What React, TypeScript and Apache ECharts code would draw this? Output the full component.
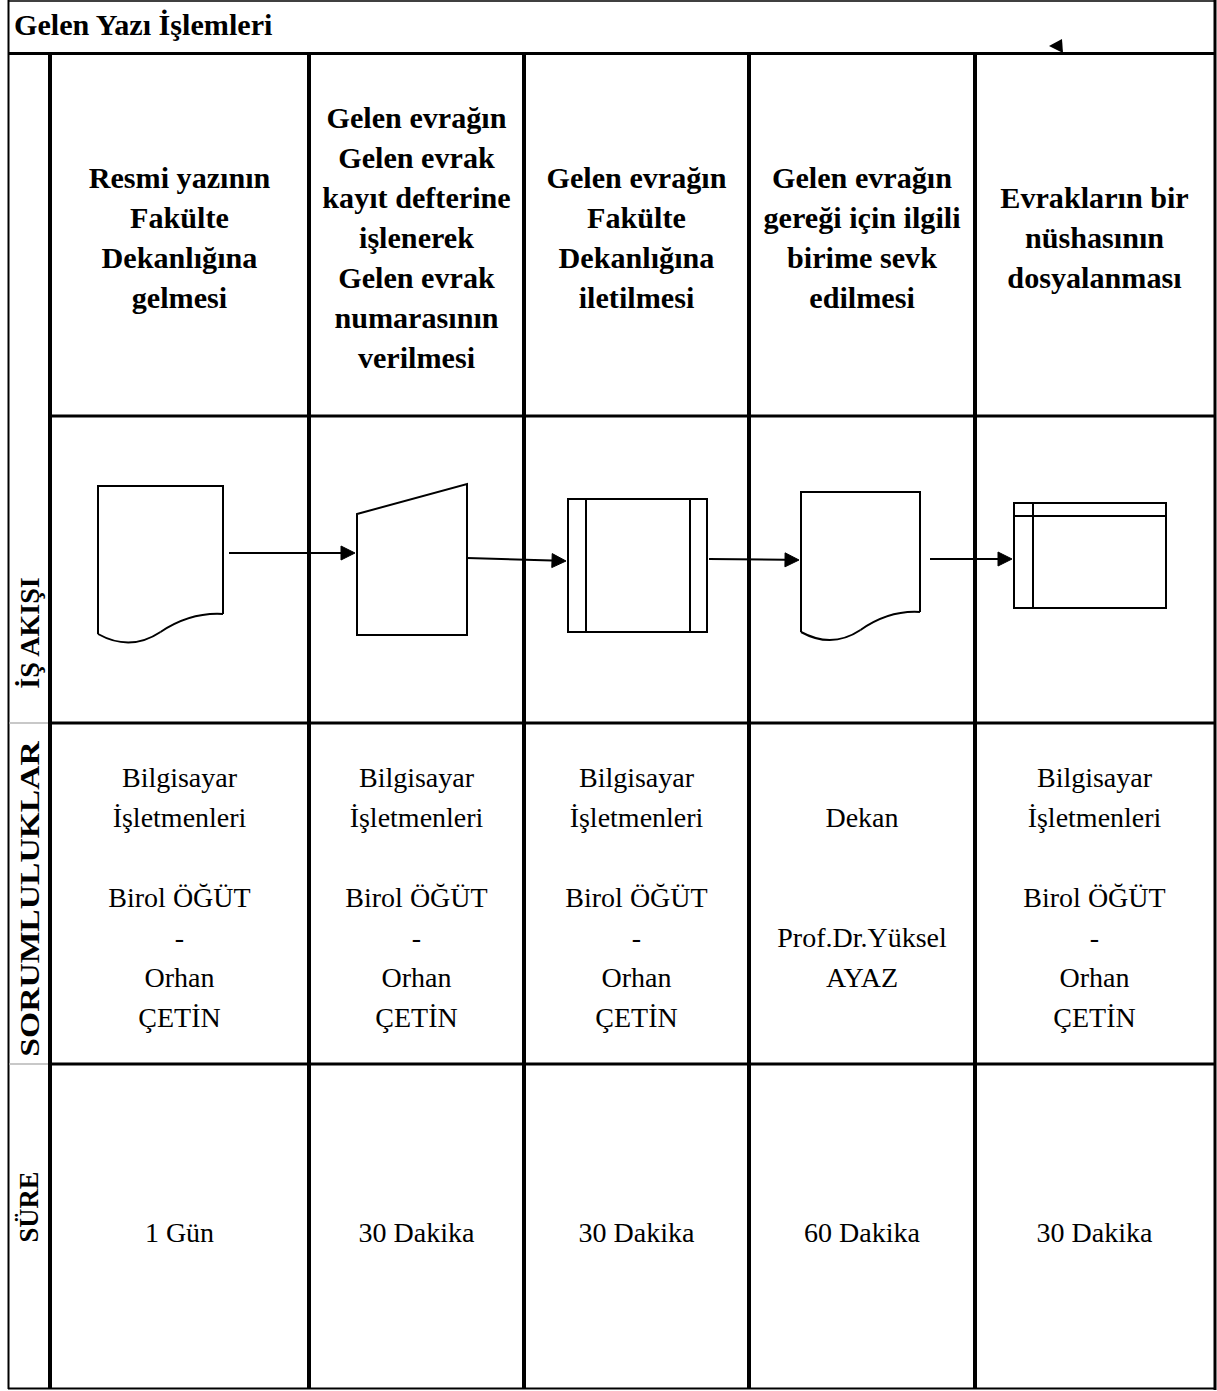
import React, { useEffect, useRef } from "react";
import * as echarts from "echarts";

const title = "Gelen Yazı İşlemleri";
const rowLabels = ["İŞ AKIŞI", "SORUMLULUKLAR", "SÜRE"];
const stepTitles = [
  ["Resmi yazının", "Fakülte", "Dekanlığına", "gelmesi"],
  ["Gelen evrağın", "Gelen evrak", "kayıt defterine", "işlenerek", "Gelen evrak", "numarasının", "verilmesi"],
  ["Gelen evrağın", "Fakülte", "Dekanlığına", "iletilmesi"],
  ["Gelen evrağın", "gereği için ilgili", "birime sevk", "edilmesi"],
  ["Evrakların bir", "nüshasının", "dosyalanması"],
];
const stepShapes = ["document", "manualInput", "predefinedProcess", "document", "internalStorage"];
const responsibles = [
  ["Bilgisayar", "İşletmenleri", "", "Birol ÖĞÜT", "-", "Orhan", "ÇETİN"],
  ["Bilgisayar", "İşletmenleri", "", "Birol ÖĞÜT", "-", "Orhan", "ÇETİN"],
  ["Bilgisayar", "İşletmenleri", "", "Birol ÖĞÜT", "-", "Orhan", "ÇETİN"],
  ["", "Dekan", "", "", "Prof.Dr.Yüksel", "AYAZ", ""],
  ["Bilgisayar", "İşletmenleri", "", "Birol ÖĞÜT", "-", "Orhan", "ÇETİN"],
];
const durations = ["1 Gün", "30 Dakika", "30 Dakika", "60 Dakika", "30 Dakika"];

// layout (pixels)
const W = 1217;
const H = 1391;
const colX = [50, 309, 524, 749, 975, 1214];
const rowY = [53, 416, 723, 1064, 1389];
const shapeBoxes = [
  { x: 98, y: 486, w: 125, rb: 614, lb: 634, dip: 18 },
  { x: 357, y: 484, w: 110, h: 151, slant: 30 },
  { x: 568, y: 499, w: 139, h: 133, inset: 18 },
  { x: 801, y: 492, w: 119, rb: 612, lb: 632, dip: 17 },
  { x: 1014, y: 503, w: 152, h: 105, inset: 19, insetTop: 13 },
];
const arrows = [
  [229, 553, 355, 553],
  [467, 558, 566, 561],
  [709, 559, 799, 560],
  [930, 559, 1012, 559],
];
const labelPos = [
  { y: 633, stretch: 1.0 },
  { y: 899, stretch: 1.2 },
  { y: 1207, stretch: 0.95 },
];

const FONT = '"Liberation Serif", "Times New Roman", serif';
const BLACK = "#000";

function line(x1: number, y1: number, x2: number, y2: number, w: number, color = BLACK) {
  return {
    type: "line",
    shape: { x1, y1, x2, y2 },
    style: { stroke: color, lineWidth: w },
    silent: true,
  };
}

function text(str: string, x: number, y: number, font: string, align = "center", extra: any = {}) {
  return {
    type: "text",
    x,
    y,
    ...extra,
    style: {
      text: str,
      font,
      fill: BLACK,
      align,
      verticalAlign: "middle",
      textAlign: align,
      textVerticalAlign: "middle",
      lineHeight: 40,
    },
    silent: true,
  };
}

function shapeElements(kind: string, b: any) {
  const st = { stroke: BLACK, lineWidth: 2, fill: "none" };
  const els: any[] = [];
  if (kind === "document") {
    els.push({
      type: "polyline",
      shape: { points: [[b.x, b.lb], [b.x, b.y], [b.x + b.w, b.y], [b.x + b.w, b.rb]] },
      style: st,
    });
    const mx = b.x + b.w * 0.5;
    const my = b.lb - 2;
    els.push({
      type: "bezierCurve",
      shape: { x1: b.x, y1: b.lb, cpx1: b.x + b.w * 0.26, cpy1: b.lb + b.dip, x2: mx, y2: my },
      style: st,
    });
    els.push({
      type: "bezierCurve",
      shape: { x1: mx, y1: my, cpx1: b.x + b.w * 0.74, cpy1: b.rb - 2, x2: b.x + b.w, y2: b.rb },
      style: st,
    });
  } else if (kind === "manualInput") {
    els.push({
      type: "polygon",
      shape: {
        points: [
          [b.x, b.y + b.slant],
          [b.x + b.w, b.y],
          [b.x + b.w, b.y + b.h],
          [b.x, b.y + b.h],
        ],
      },
      style: st,
    });
  } else if (kind === "predefinedProcess") {
    els.push({ type: "rect", shape: { x: b.x, y: b.y, width: b.w, height: b.h }, style: st });
    els.push(line(b.x + b.inset, b.y, b.x + b.inset, b.y + b.h, 2));
    els.push(line(b.x + b.w - b.inset + 1, b.y, b.x + b.w - b.inset + 1, b.y + b.h, 2));
  } else if (kind === "internalStorage") {
    els.push({ type: "rect", shape: { x: b.x, y: b.y, width: b.w, height: b.h }, style: st });
    els.push(line(b.x + b.inset, b.y, b.x + b.inset, b.y + b.h, 2));
    els.push(line(b.x, b.y + b.insetTop, b.x + b.w, b.y + b.insetTop, 2));
  }
  return els;
}

function arrowElements(a: number[]) {
  const [x1, y1, x2, y2] = a;
  const len = 14;
  const half = 7;
  const ang = Math.atan2(y2 - y1, x2 - x1);
  const bx = x2 - len * Math.cos(ang);
  const by = y2 - len * Math.sin(ang);
  const px = -Math.sin(ang) * half;
  const py = Math.cos(ang) * half;
  return [
    line(x1, y1, bx, by, 2),
    {
      type: "polygon",
      shape: { points: [[x2, y2], [bx + px, by + py], [bx - px, by - py]] },
      style: { fill: BLACK, stroke: BLACK, lineWidth: 1 },
    },
  ];
}

export default function App() {
  const ref = useRef<HTMLDivElement>(null);
  useEffect(() => {
    if (!ref.current) return;
    const chart = echarts.init(ref.current, undefined, { renderer: "svg" });
    const els: any[] = [];

    // background
    els.push({ type: "rect", shape: { x: 0, y: 0, width: W, height: H }, style: { fill: "#fff" } });

    // outer frame
    els.push(line(8, 1, 1216, 1, 1.5));
    els.push(line(8.5, 0, 8.5, 1389, 2));
    els.push(line(1215, 0, 1215, 1390, 3));
    els.push(line(8, 53.5, 1216, 53.5, 3));
    els.push(line(8, 1388.5, 1216, 1388.5, 2));

    // left label column separators (light)
    els.push(line(9.5, rowY[2], 48, rowY[2], 2, "#c8c8c8"));
    els.push(line(9.5, rowY[3], 48, rowY[3], 2, "#c8c8c8"));

    // grid verticals
    for (let i = 0; i < colX.length - 1; i++) {
      els.push(line(colX[i], rowY[0] + 1, colX[i], rowY[4], 4));
    }
    // grid horizontals
    for (let j = 1; j < rowY.length - 1; j++) {
      els.push(line(colX[0], rowY[j], colX[5], rowY[j], 3));
    }

    // title
    els.push(text(title, 14, 25, `bold 29px ${FONT}`, "left", { scaleX: 1.04 }));

    // small arrow head in header
    els.push({
      type: "polygon",
      shape: { points: [[1049, 46], [1062, 39], [1063, 53]] },
      style: { fill: BLACK },
    });

    // step titles
    stepTitles.forEach((lines, i) => {
      const cx = (colX[i] + colX[i + 1]) / 2;
      els.push(text(lines.join("\n"), cx, 238, `bold 29px ${FONT}`, "center", { scaleX: 1.04 }));
    });

    // shapes
    stepShapes.forEach((kind, i) => {
      shapeElements(kind, shapeBoxes[i]).forEach((e) => els.push(e));
    });
    arrows.forEach((a) => arrowElements(a).forEach((e) => els.push(e)));

    // responsibilities
    responsibles.forEach((lines, i) => {
      const cx = (colX[i] + colX[i + 1]) / 2;
      els.push(text(lines.join("\n"), cx, 897, `28px ${FONT}`));
    });

    // durations
    durations.forEach((d, i) => {
      const cx = (colX[i] + colX[i + 1]) / 2;
      els.push(text(d, cx, 1232, `28px ${FONT}`));
    });

    // rotated row labels
    rowLabels.forEach((lb, i) => {
      els.push(
        text(lb, 29, labelPos[i].y, `bold 28px ${FONT}`, "center", {
          rotation: Math.PI / 2,
          scaleX: labelPos[i].stretch,
        })
      );
    });

    chart.setOption({ animation: false, graphic: { elements: els } });
    return () => chart.dispose();
  }, []);
  return (
    <div
      ref={ref}
      style={{ position: "fixed", left: 0, top: 0, width: W, height: H, background: "#fff" }}
    />
  );
}
